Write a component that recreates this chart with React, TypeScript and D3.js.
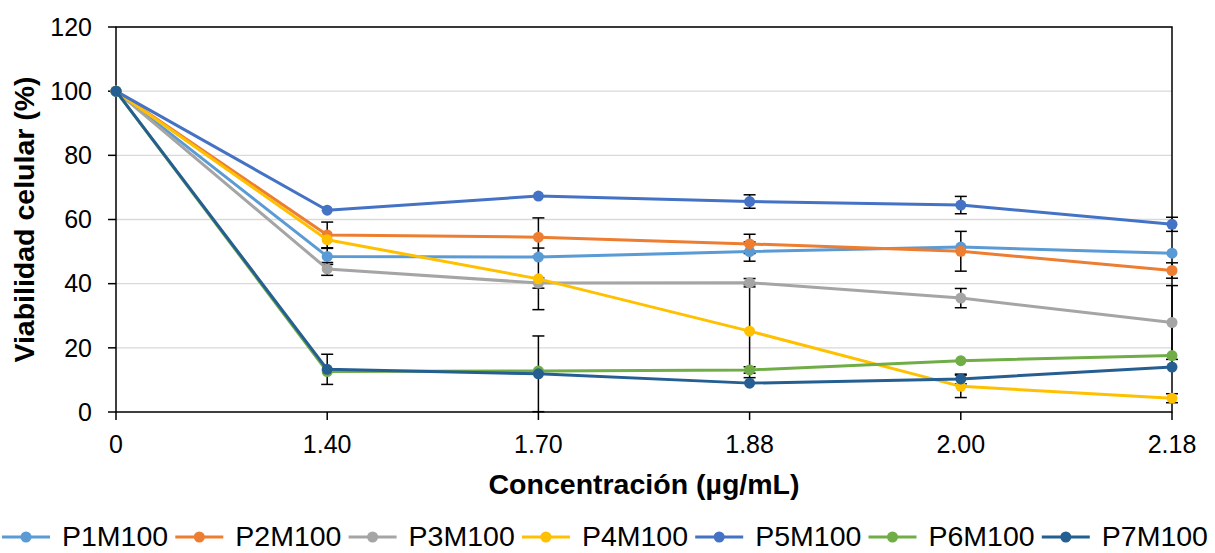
import * as d3 from 'd3'

const categories = ['0', '1.40', '1.70', '1.88', '2.00', '2.18']
const yTicks = [0, 20, 40, 60, 80, 100, 120]

const seriesNames = ['P1M100', 'P2M100', 'P3M100', 'P4M100', 'P5M100', 'P6M100', 'P7M100']
const seriesColors = ['#5B9BD5', '#ED7D31', '#A5A5A5', '#FFC000', '#4472C4', '#70AD47', '#255E91']

const p1 = [100, 48.5, 48.3, 50.0, 51.4, 49.5]
const p2 = [100, 55.2, 54.5, 52.4, 50.1, 44.1]
const p3 = [100, 44.6, 40.2, 40.3, 35.5, 27.9]
const p4 = [100, 53.7, 41.5, 25.2, 8.0, 4.3]
const p5 = [100, 62.9, 67.3, 65.6, 64.5, 58.5]
const p6 = [100, 12.6, 12.8, 13.1, 16.0, 17.6]
const p7 = [100, 13.3, 11.9, 9.0, 10.3, 14.0]

// desviación estándar (barras de error)
const e1 = [0, 2.5, 0, 3.0, 0, 0]
const e2 = [0, 4.0, 6.0, 3.0, 6.2, 2.4]
const e3 = [0, 2.0, 1.6, 1.3, 3.0, 11.5]
const e4 = [0, 0, 9.6, 14.5, 3.5, 1.4]
const e5 = [0, 0, 0, 2.1, 2.7, 2.2]
const e6 = [0, 0, 0, 1.0, 0, 0]
const e7 = [0, 4.7, 11.8, 0, 1.5, 0]

const values = [p1, p2, p3, p4, p5, p6, p7]
const errors = [e1, e2, e3, e4, e5, e6, e7]

export default function App() {
    const width = 1215
    const height = 553
    const left = 116, right = 1172, top = 27, bottom = 412
    const font = '"Liberation Sans", Arial, sans-serif'

    const x = d3.scalePoint<string>().domain(categories).range([left, right])
    const y = d3.scaleLinear().domain([0, 120]).range([bottom, top])

    const line = d3.line<number>()
        .x((_, i) => x(categories[i]) as number)
        .y(d => y(d))

    const legendStep = 173.3
    const legendY = 537

    return (
        <div>
            <style>{`body{margin:0;background:#fff}`}</style>
            <svg width={width} height={height} style={{ display: 'block' }} fontFamily={font}>
                {yTicks.filter(t => t > 0).map(t => (
                    <line key={'g' + t} x1={left} x2={right} y1={y(t)} y2={y(t)} stroke="#D9D9D9" strokeWidth={1.3} />
                ))}
                <rect x={left} y={top} width={right - left} height={bottom - top} fill="none" stroke="#000" strokeWidth={1.5} />
                {yTicks.map(t => (
                    <g key={'yt' + t}>
                        <line x1={left - 8} x2={left} y1={y(t)} y2={y(t)} stroke="#000" strokeWidth={1.5} />
                        <text x={92} y={y(t)} dy="0.35em" textAnchor="end" fontSize={25} fill="#000">{t}</text>
                    </g>
                ))}
                {categories.map(c => (
                    <g key={'xt' + c}>
                        <line x1={x(c)} x2={x(c)} y1={bottom} y2={bottom + 8} stroke="#000" strokeWidth={1.5} />
                        <text x={x(c)} y={453} textAnchor="middle" fontSize={25} fill="#000">{c}</text>
                    </g>
                ))}
                <text x={(left + right) / 2} y={494} textAnchor="middle" fontSize={28.5} fontWeight="bold" fill="#000">Concentración (µg/mL)</text>
                <text transform={`translate(34, ${(top + bottom) / 2}) rotate(-90)`} textAnchor="middle" fontSize={28.5} fontWeight="bold" fill="#000">Viabilidad celular (%)</text>

                {errors.map((errs, s) => (
                    <g key={'e' + s}>
                        {errs.map((err, i) => {
                            if (!err) return null
                            const cx = x(categories[i]) as number
                            const v = values[s][i]
                            const y1 = y(Math.min(120, v + err))
                            const y2 = y(Math.max(0, v - err))
                            return (
                                <g key={i}>
                                    <line x1={cx} x2={cx} y1={y1} y2={y2} stroke="#000" strokeWidth={1.5} />
                                    <line x1={cx - 6} x2={cx + 6} y1={y1} y2={y1} stroke="#000" strokeWidth={1.5} />
                                    <line x1={cx - 6} x2={cx + 6} y1={y2} y2={y2} stroke="#000" strokeWidth={1.5} />
                                </g>
                            )
                        })}
                    </g>
                ))}

                {values.map((vals, s) => (
                    <g key={'s' + s}>
                        <path d={line(vals) || ''} fill="none" stroke={seriesColors[s]} strokeWidth={3} strokeLinejoin="round" />
                        {vals.map((v, i) => (
                            <circle key={i} cx={x(categories[i])} cy={y(v)} r={5.5} fill={seriesColors[s]} />
                        ))}
                    </g>
                ))}

                {seriesNames.map((name, s) => {
                    const lx = 2 + s * legendStep
                    return (
                        <g key={'l' + s}>
                            <line x1={lx} x2={lx + 48} y1={legendY} y2={legendY} stroke={seriesColors[s]} strokeWidth={3} />
                            <circle cx={lx + 24} cy={legendY} r={5.5} fill={seriesColors[s]} />
                            <text x={lx + 60} y={546} fontSize={28.5} fill="#000">{name}</text>
                        </g>
                    )
                })}
            </svg>
        </div>
    )
}
